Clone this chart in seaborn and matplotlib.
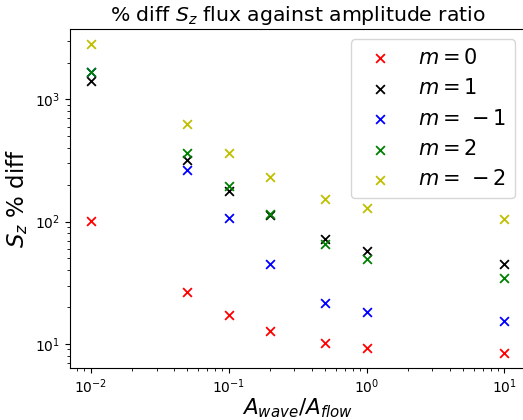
import numpy as np
import pandas as pd
import matplotlib
matplotlib.use("Agg")
import matplotlib.pyplot as plt
import seaborn as sns

# amplitude ratios
ratios = [0.01, 0.05, 0.1, 0.2, 0.5, 1, 10]

# % diff in S_z flux per azimuthal mode
m0 = [102, 26.5, 17.3, 12.8, 10.1, 9.2, 8.5]
m1 = [1413, 319, 179, 113, 71.8, 58, 45]
m_1 = [1683, 265, 106.6, 44.9, 21.8, 18.2, 15.5]
m2 = [1683, 362, 197, 115, 65.8, 49.2, 34.8]
m_2 = [2820, 632, 365, 233, 154, 129, 105]

series = [
    (r'$m=0$', m0, 'r'),
    (r'$m=1$', m1, 'k'),
    (r'$m=\,-1$', m_1, 'b'),
    (r'$m=2$', m2, 'g'),
    (r'$m=\,-2$', m_2, 'y'),
]

fig = plt.figure(figsize=(5.23, 4.2), dpi=100)
ax = fig.add_axes([0.134, 0.124, 0.87, 0.807])

for label, vals, col in series:
    df = pd.DataFrame({'ratio': ratios, 'diff': vals})
    sns.scatterplot(data=df, x='ratio', y='diff', color=col, marker='x',
                    s=40, linewidth=1.3, label=label, ax=ax)

ax.set_xscale('log')
ax.set_yscale('log')
ax.set_title(r'% diff $S_z$ flux against amplitude ratio', fontsize=14.7)
ax.set_xlabel(r'$A_{wave}/A_{flow}$', fontsize=15.5, labelpad=0)
ax.set_ylabel(r'$S_z$ % diff', fontsize=16.5)
ax.legend(fontsize=15, loc='upper right')

fig.savefig('out.png', dpi=100)
